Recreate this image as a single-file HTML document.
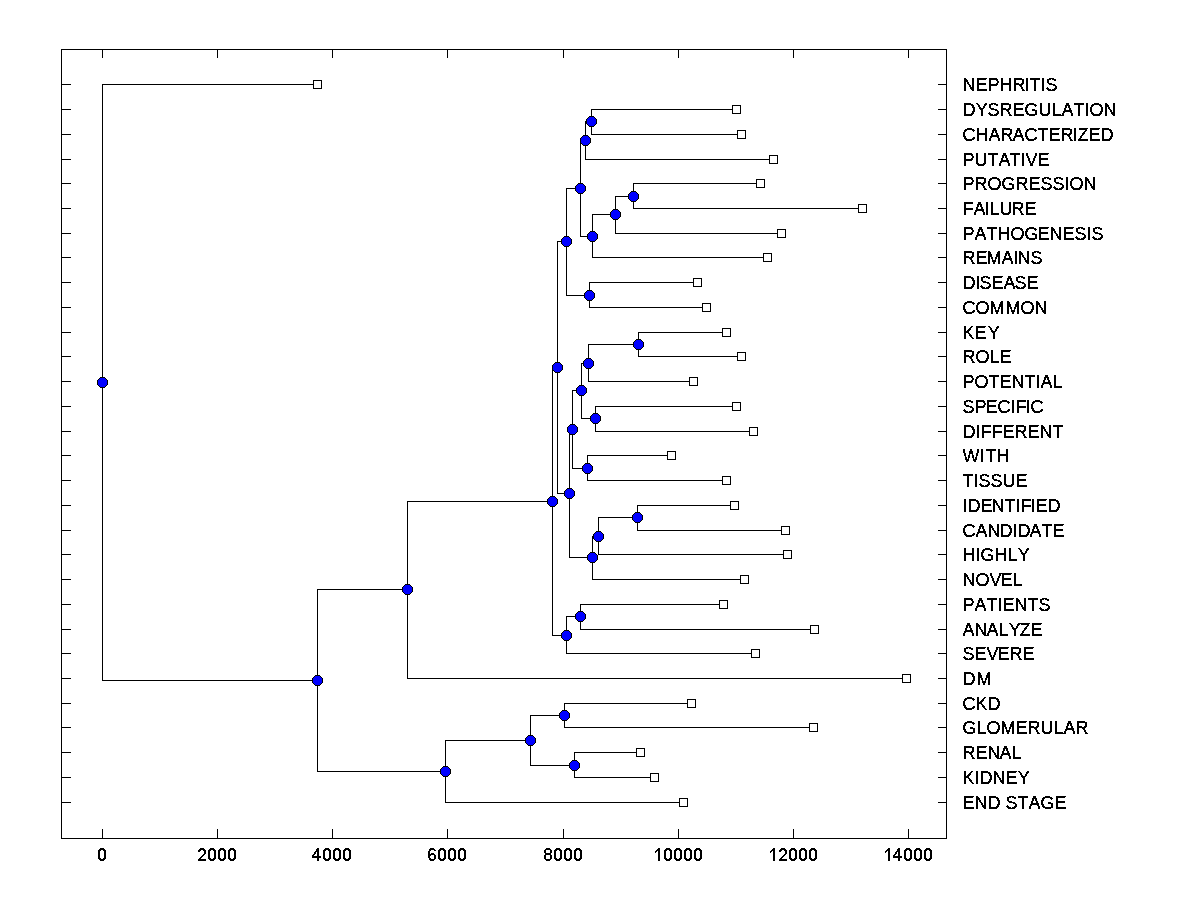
<!DOCTYPE html>
<html><head><meta charset="utf-8"><title>Dendrogram</title>
<style>
html,body{margin:0;padding:0;background:#fff;}
body{width:1200px;height:900px;overflow:hidden;position:relative;}
svg{position:absolute;left:0;top:0;}
text{font-family:"Liberation Sans",sans-serif;font-size:18px;fill:#000;stroke:#000;stroke-width:0.24px;font-kerning:none;}
</style></head>
<body>
<svg width="1200" height="900" viewBox="0 0 1200 900" shape-rendering="crispEdges">
<defs>
<g id="o">
<path d="M-2 -5h5v1h1v1h1v1h1v5h-1v1h-1v1h-1v1h-5v-1h-1v-1h-1v-1h-1v-5h1v-1h1v-1h1z" fill="#000"/>
<path d="M-2 -4h5v1h1v1h1v5h-1v1h-1v1h-5v-1h-1v-1h-1v-5h1v-1h1z" fill="#00f"/>
</g>
<g id="s"><rect x="-4" y="-4" width="9" height="9" fill="#000"/><rect x="-3" y="-3" width="7" height="7" fill="#fff"/></g>
<path id="d0" d="M3 0h4v1h-4zM2 1h6v1h-6zM1 2h3v1h-3zM6 2h3v1h-3zM1 3h2v1h-2zM7 3h2v1h-2zM1 4h2v1h-2zM7 4h2v1h-2zM1 5h2v1h-2zM7 5h2v1h-2zM1 6h2v1h-2zM7 6h2v1h-2zM1 7h2v1h-2zM7 7h2v1h-2zM1 8h2v1h-2zM7 8h2v1h-2zM1 9h2v1h-2zM7 9h2v1h-2zM1 10h3v1h-3zM6 10h3v1h-3zM2 11h6v1h-6zM3 12h4v1h-4z"/>
<path id="d1" d="M5 0h2v1h-2zM4 1h3v1h-3zM3 2h4v1h-4zM2 3h2v1h-2zM5 3h2v1h-2zM2 4h1v1h-1zM5 4h2v1h-2zM5 5h2v1h-2zM5 6h2v1h-2zM5 7h2v1h-2zM5 8h2v1h-2zM5 9h2v1h-2zM5 10h2v1h-2zM5 11h2v1h-2zM5 12h2v1h-2z"/>
<path id="d2" d="M3 0h4v1h-4zM2 1h6v1h-6zM1 2h3v1h-3zM6 2h3v1h-3zM1 3h2v1h-2zM7 3h2v1h-2zM7 4h2v1h-2zM7 5h2v1h-2zM6 6h2v1h-2zM5 7h2v1h-2zM4 8h2v1h-2zM3 9h2v1h-2zM2 10h2v1h-2zM1 11h8v1h-8zM1 12h8v1h-8z"/>
<path id="d4" d="M5 0h2v1h-2zM4 1h3v1h-3zM4 2h3v1h-3zM3 3h4v1h-4zM2 4h2v1h-2zM5 4h2v1h-2zM2 5h2v1h-2zM5 5h2v1h-2zM1 6h2v1h-2zM5 6h2v1h-2zM0 7h2v1h-2zM5 7h2v1h-2zM0 8h9v1h-9zM0 9h9v1h-9zM5 10h2v1h-2zM5 11h2v1h-2zM5 12h2v1h-2z"/>
<path id="d6" d="M3 0h4v1h-4zM2 1h6v1h-6zM2 2h2v1h-2zM7 2h2v1h-2zM1 3h2v1h-2zM1 4h2v1h-2zM1 5h2v1h-2zM4 5h3v1h-3zM1 6h7v1h-7zM1 7h3v1h-3zM7 7h2v1h-2zM1 8h2v1h-2zM7 8h2v1h-2zM1 9h2v1h-2zM7 9h2v1h-2zM2 10h2v1h-2zM7 10h2v1h-2zM2 11h6v1h-6zM3 12h4v1h-4z"/>
<path id="d8" d="M3 0h4v1h-4zM2 1h6v1h-6zM1 2h2v1h-2zM7 2h2v1h-2zM1 3h2v1h-2zM7 3h2v1h-2zM1 4h2v1h-2zM7 4h2v1h-2zM2 5h6v1h-6zM2 6h6v1h-6zM1 7h2v1h-2zM7 7h2v1h-2zM1 8h2v1h-2zM7 8h2v1h-2zM1 9h2v1h-2zM7 9h2v1h-2zM1 10h2v1h-2zM7 10h2v1h-2zM2 11h6v1h-6zM3 12h4v1h-4z"/>
<filter id="bw" filterUnits="userSpaceOnUse" x="950" y="60" width="250" height="770" color-interpolation-filters="sRGB"><feComponentTransfer in="SourceGraphic" result="a"><feFuncA type="discrete" tableValues="0 1"/></feComponentTransfer><feOffset in="a" dy="-1" result="u"/><feOffset in="a" dy="1" result="n"/><feComposite in="a" in2="u" operator="out" result="t1"/><feComposite in="t1" in2="n" operator="out" result="t2"/><feMorphology in="t2" operator="erode" radius="1 0" result="e"/><feMorphology in="e" operator="dilate" radius="1 0" result="d"/><feOffset in="d" dy="-1" result="add"/><feMerge><feMergeNode in="a"/><feMergeNode in="add"/></feMerge></filter>
</defs>
<g fill="#000">
<rect x="591" y="109" width="1" height="26"/>
<rect x="591" y="109" width="146" height="1"/>
<rect x="591" y="134" width="151" height="1"/>
<rect x="585" y="121" width="1" height="39"/>
<rect x="585" y="121" width="7" height="1"/>
<rect x="585" y="159" width="189" height="1"/>
<rect x="633" y="183" width="1" height="26"/>
<rect x="633" y="183" width="128" height="1"/>
<rect x="633" y="208" width="230" height="1"/>
<rect x="615" y="196" width="1" height="38"/>
<rect x="615" y="196" width="19" height="1"/>
<rect x="615" y="233" width="167" height="1"/>
<rect x="592" y="214" width="1" height="44"/>
<rect x="592" y="214" width="24" height="1"/>
<rect x="592" y="257" width="176" height="1"/>
<rect x="580" y="140" width="1" height="97"/>
<rect x="580" y="140" width="6" height="1"/>
<rect x="580" y="236" width="13" height="1"/>
<rect x="589" y="282" width="1" height="26"/>
<rect x="589" y="282" width="109" height="1"/>
<rect x="589" y="307" width="118" height="1"/>
<rect x="566" y="188" width="1" height="108"/>
<rect x="566" y="188" width="15" height="1"/>
<rect x="566" y="295" width="24" height="1"/>
<rect x="638" y="332" width="1" height="25"/>
<rect x="638" y="332" width="89" height="1"/>
<rect x="638" y="356" width="104" height="1"/>
<rect x="588" y="344" width="1" height="38"/>
<rect x="588" y="344" width="51" height="1"/>
<rect x="588" y="381" width="106" height="1"/>
<rect x="595" y="406" width="1" height="26"/>
<rect x="595" y="406" width="142" height="1"/>
<rect x="595" y="431" width="159" height="1"/>
<rect x="581" y="363" width="1" height="56"/>
<rect x="581" y="363" width="8" height="1"/>
<rect x="581" y="418" width="15" height="1"/>
<rect x="587" y="455" width="1" height="26"/>
<rect x="587" y="455" width="85" height="1"/>
<rect x="587" y="480" width="140" height="1"/>
<rect x="572" y="390" width="1" height="79"/>
<rect x="572" y="390" width="10" height="1"/>
<rect x="572" y="468" width="16" height="1"/>
<rect x="637" y="505" width="1" height="26"/>
<rect x="637" y="505" width="98" height="1"/>
<rect x="637" y="530" width="149" height="1"/>
<rect x="598" y="517" width="1" height="38"/>
<rect x="598" y="517" width="40" height="1"/>
<rect x="598" y="554" width="190" height="1"/>
<rect x="592" y="536" width="1" height="44"/>
<rect x="592" y="536" width="7" height="1"/>
<rect x="592" y="579" width="153" height="1"/>
<rect x="569" y="429" width="1" height="129"/>
<rect x="569" y="429" width="4" height="1"/>
<rect x="569" y="557" width="24" height="1"/>
<rect x="557" y="241" width="1" height="253"/>
<rect x="557" y="241" width="10" height="1"/>
<rect x="557" y="493" width="13" height="1"/>
<rect x="580" y="604" width="1" height="26"/>
<rect x="580" y="604" width="144" height="1"/>
<rect x="580" y="629" width="235" height="1"/>
<rect x="566" y="616" width="1" height="38"/>
<rect x="566" y="616" width="15" height="1"/>
<rect x="566" y="653" width="190" height="1"/>
<rect x="552" y="367" width="1" height="269"/>
<rect x="552" y="367" width="6" height="1"/>
<rect x="552" y="635" width="15" height="1"/>
<rect x="407" y="501" width="1" height="178"/>
<rect x="407" y="501" width="146" height="1"/>
<rect x="407" y="678" width="500" height="1"/>
<rect x="564" y="703" width="1" height="25"/>
<rect x="564" y="703" width="128" height="1"/>
<rect x="564" y="727" width="250" height="1"/>
<rect x="574" y="752" width="1" height="26"/>
<rect x="574" y="752" width="67" height="1"/>
<rect x="574" y="777" width="81" height="1"/>
<rect x="530" y="715" width="1" height="51"/>
<rect x="530" y="715" width="35" height="1"/>
<rect x="530" y="765" width="45" height="1"/>
<rect x="445" y="740" width="1" height="63"/>
<rect x="445" y="740" width="86" height="1"/>
<rect x="445" y="802" width="239" height="1"/>
<rect x="317" y="589" width="1" height="183"/>
<rect x="317" y="589" width="91" height="1"/>
<rect x="317" y="771" width="129" height="1"/>
<rect x="102" y="84" width="1" height="597"/>
<rect x="102" y="84" width="216" height="1"/>
<rect x="102" y="680" width="216" height="1"/>
<rect x="61" y="49" width="886" height="1"/>
<rect x="61" y="838" width="886" height="1"/>
<rect x="61" y="49" width="1" height="790"/>
<rect x="946" y="49" width="1" height="790"/>
<rect x="102" y="49" width="1" height="9"/>
<rect x="102" y="829" width="1" height="10"/>
<rect x="217" y="49" width="1" height="9"/>
<rect x="217" y="829" width="1" height="10"/>
<rect x="332" y="49" width="1" height="9"/>
<rect x="332" y="829" width="1" height="10"/>
<rect x="447" y="49" width="1" height="9"/>
<rect x="447" y="829" width="1" height="10"/>
<rect x="563" y="49" width="1" height="9"/>
<rect x="563" y="829" width="1" height="10"/>
<rect x="678" y="49" width="1" height="9"/>
<rect x="678" y="829" width="1" height="10"/>
<rect x="793" y="49" width="1" height="9"/>
<rect x="793" y="829" width="1" height="10"/>
<rect x="908" y="49" width="1" height="9"/>
<rect x="908" y="829" width="1" height="10"/>
<rect x="61" y="84" width="10" height="1"/>
<rect x="938" y="84" width="9" height="1"/>
<rect x="61" y="109" width="10" height="1"/>
<rect x="938" y="109" width="9" height="1"/>
<rect x="61" y="134" width="10" height="1"/>
<rect x="938" y="134" width="9" height="1"/>
<rect x="61" y="159" width="10" height="1"/>
<rect x="938" y="159" width="9" height="1"/>
<rect x="61" y="183" width="10" height="1"/>
<rect x="938" y="183" width="9" height="1"/>
<rect x="61" y="208" width="10" height="1"/>
<rect x="938" y="208" width="9" height="1"/>
<rect x="61" y="233" width="10" height="1"/>
<rect x="938" y="233" width="9" height="1"/>
<rect x="61" y="257" width="10" height="1"/>
<rect x="938" y="257" width="9" height="1"/>
<rect x="61" y="282" width="10" height="1"/>
<rect x="938" y="282" width="9" height="1"/>
<rect x="61" y="307" width="10" height="1"/>
<rect x="938" y="307" width="9" height="1"/>
<rect x="61" y="332" width="10" height="1"/>
<rect x="938" y="332" width="9" height="1"/>
<rect x="61" y="356" width="10" height="1"/>
<rect x="938" y="356" width="9" height="1"/>
<rect x="61" y="381" width="10" height="1"/>
<rect x="938" y="381" width="9" height="1"/>
<rect x="61" y="406" width="10" height="1"/>
<rect x="938" y="406" width="9" height="1"/>
<rect x="61" y="431" width="10" height="1"/>
<rect x="938" y="431" width="9" height="1"/>
<rect x="61" y="455" width="10" height="1"/>
<rect x="938" y="455" width="9" height="1"/>
<rect x="61" y="480" width="10" height="1"/>
<rect x="938" y="480" width="9" height="1"/>
<rect x="61" y="505" width="10" height="1"/>
<rect x="938" y="505" width="9" height="1"/>
<rect x="61" y="530" width="10" height="1"/>
<rect x="938" y="530" width="9" height="1"/>
<rect x="61" y="554" width="10" height="1"/>
<rect x="938" y="554" width="9" height="1"/>
<rect x="61" y="579" width="10" height="1"/>
<rect x="938" y="579" width="9" height="1"/>
<rect x="61" y="604" width="10" height="1"/>
<rect x="938" y="604" width="9" height="1"/>
<rect x="61" y="629" width="10" height="1"/>
<rect x="938" y="629" width="9" height="1"/>
<rect x="61" y="653" width="10" height="1"/>
<rect x="938" y="653" width="9" height="1"/>
<rect x="61" y="678" width="10" height="1"/>
<rect x="938" y="678" width="9" height="1"/>
<rect x="61" y="703" width="10" height="1"/>
<rect x="938" y="703" width="9" height="1"/>
<rect x="61" y="727" width="10" height="1"/>
<rect x="938" y="727" width="9" height="1"/>
<rect x="61" y="752" width="10" height="1"/>
<rect x="938" y="752" width="9" height="1"/>
<rect x="61" y="777" width="10" height="1"/>
<rect x="938" y="777" width="9" height="1"/>
<rect x="61" y="802" width="10" height="1"/>
<rect x="938" y="802" width="9" height="1"/>
</g>
<g>
<use href="#s" x="317" y="84"/>
<use href="#s" x="736" y="109"/>
<use href="#s" x="741" y="134"/>
<use href="#s" x="773" y="159"/>
<use href="#s" x="760" y="183"/>
<use href="#s" x="862" y="208"/>
<use href="#s" x="781" y="233"/>
<use href="#s" x="767" y="257"/>
<use href="#s" x="697" y="282"/>
<use href="#s" x="706" y="307"/>
<use href="#s" x="726" y="332"/>
<use href="#s" x="741" y="356"/>
<use href="#s" x="693" y="381"/>
<use href="#s" x="736" y="406"/>
<use href="#s" x="753" y="431"/>
<use href="#s" x="671" y="455"/>
<use href="#s" x="726" y="480"/>
<use href="#s" x="734" y="505"/>
<use href="#s" x="785" y="530"/>
<use href="#s" x="787" y="554"/>
<use href="#s" x="744" y="579"/>
<use href="#s" x="723" y="604"/>
<use href="#s" x="814" y="629"/>
<use href="#s" x="755" y="653"/>
<use href="#s" x="906" y="678"/>
<use href="#s" x="691" y="703"/>
<use href="#s" x="813" y="727"/>
<use href="#s" x="640" y="752"/>
<use href="#s" x="654" y="777"/>
<use href="#s" x="683" y="802"/>
<use href="#o" x="591" y="121"/>
<use href="#o" x="585" y="140"/>
<use href="#o" x="633" y="196"/>
<use href="#o" x="615" y="214"/>
<use href="#o" x="592" y="236"/>
<use href="#o" x="580" y="188"/>
<use href="#o" x="589" y="295"/>
<use href="#o" x="566" y="241"/>
<use href="#o" x="638" y="344"/>
<use href="#o" x="588" y="363"/>
<use href="#o" x="595" y="418"/>
<use href="#o" x="581" y="390"/>
<use href="#o" x="587" y="468"/>
<use href="#o" x="572" y="429"/>
<use href="#o" x="637" y="517"/>
<use href="#o" x="598" y="536"/>
<use href="#o" x="592" y="557"/>
<use href="#o" x="569" y="493"/>
<use href="#o" x="557" y="367"/>
<use href="#o" x="580" y="616"/>
<use href="#o" x="566" y="635"/>
<use href="#o" x="552" y="501"/>
<use href="#o" x="407" y="589"/>
<use href="#o" x="564" y="715"/>
<use href="#o" x="574" y="765"/>
<use href="#o" x="530" y="740"/>
<use href="#o" x="445" y="771"/>
<use href="#o" x="317" y="680"/>
<use href="#o" x="102" y="382"/>
</g>
<g filter="url(#bw)">
<text x="962.5 975.5 987.5 999.5 1012.5 1024.5 1029.5 1040.5 1045.5" y="91">NEPHRITIS</text>
<text x="962.5 975.8 987.5 999.5 1012.5 1024.5 1038.5 1051.5 1061.5 1073.5 1084.5 1089.5 1103.5" y="116">DYSREGULATION</text>
<text x="962.5 975.5 988.5 1000.5 1012.5 1024.5 1037.5 1048.5 1060.5 1072.5 1077.5 1088.5 1100.5" y="141">CHARACTERIZED</text>
<text x="962.5 974.5 987.5 998.5 1009.5 1020.5 1025.5 1037.5" y="166">PUTATIVE</text>
<text x="962.5 974.5 987.5 1001.5 1015.5 1028.5 1040.5 1052.5 1064.5 1069.5 1083.5" y="190">PROGRESSION</text>
<text x="962.5 973.5 984.5 989.5 999.5 1011.5 1024.5" y="215">FAILURE</text>
<text x="962.5 974.5 986.5 997.5 1010.5 1024.5 1037.5 1049.5 1062.5 1074.5 1086.5 1091.5" y="240">PATHOGENESIS</text>
<text x="962.5 975.5 986.5 1001.5 1013.5 1017.5 1030.5" y="264">REMAINS</text>
<text x="962.5 975.5 979.5 991.5 1003.5 1014.5 1026.5" y="289">DISEASE</text>
<text x="962.5 975.5 989.5 1005.5 1020.5 1034.5" y="314">COMMON</text>
<text x="962.5 974.5 987.8" y="339">KEY</text>
<text x="962.5 975.5 989.5 999.5" y="363">ROLE</text>
<text x="962.5 974.5 988.5 999.5 1011.5 1024.5 1035.5 1040.5 1052.5" y="388">POTENTIAL</text>
<text x="962.5 974.5 985.5 997.5 1010.5 1015.5 1025.5 1030.5" y="413">SPECIFIC</text>
<text x="962.5 975.5 980.5 991.5 1002.5 1014.5 1027.5 1039.5 1052.5" y="438">DIFFERENT</text>
<text x="962.5 979.5 985.5 996.5" y="462">WITH</text>
<text x="962.5 973.5 978.5 990.5 1002.5 1015.5" y="487">TISSUE</text>
<text x="962.5 967.5 980.5 991.5 1004.5 1015.5 1020.5 1030.5 1035.5 1047.5" y="512">IDENTIFIED</text>
<text x="962.5 975.5 987.5 999.5 1012.5 1017.5 1029.5 1041.5 1052.5" y="537">CANDIDATE</text>
<text x="962.5 975.5 980.5 994.5 1007.5 1017.8" y="561">HIGHLY</text>
<text x="962.5 975.5 989.5 1000.5 1012.5" y="586">NOVEL</text>
<text x="962.5 974.5 986.5 997.5 1002.5 1014.5 1027.5 1038.5" y="611">PATIENTS</text>
<text x="962.5 974.5 986.5 998.5 1008.8 1019.5 1030.5" y="636">ANALYZE</text>
<text x="962.5 974.5 986.5 997.5 1009.5 1022.5" y="660">SEVERE</text>
<text x="962.5 976.5" y="685">DM</text>
<text x="962.5 975.5 987.5" y="710">CKD</text>
<text x="962.5 976.5 986.5 1000.5 1015.5 1027.5 1040.5 1053.5 1063.5 1075.5" y="734">GLOMERULAR</text>
<text x="962.5 975.5 987.5 999.5 1011.5" y="759">RENAL</text>
<text x="962.5 974.5 979.5 992.5 1005.5 1017.8" y="784">KIDNEY</text>
<text x="962.5 974.5 987.5 1000.5 1005.5 1017.5 1028.5 1040.5 1054.5" y="809">END STAGE</text>
</g>
<g fill="#000">
<use href="#d0" x="97" y="848"/>
<use href="#d2" x="197" y="848"/>
<use href="#d0" x="207" y="848"/>
<use href="#d0" x="217" y="848"/>
<use href="#d0" x="227" y="848"/>
<use href="#d4" x="312" y="848"/>
<use href="#d0" x="322" y="848"/>
<use href="#d0" x="332" y="848"/>
<use href="#d0" x="342" y="848"/>
<use href="#d6" x="427" y="848"/>
<use href="#d0" x="437" y="848"/>
<use href="#d0" x="447" y="848"/>
<use href="#d0" x="457" y="848"/>
<use href="#d8" x="543" y="848"/>
<use href="#d0" x="553" y="848"/>
<use href="#d0" x="563" y="848"/>
<use href="#d0" x="573" y="848"/>
<use href="#d1" x="653" y="848"/>
<use href="#d0" x="663" y="848"/>
<use href="#d0" x="673" y="848"/>
<use href="#d0" x="683" y="848"/>
<use href="#d0" x="693" y="848"/>
<use href="#d1" x="768" y="848"/>
<use href="#d2" x="778" y="848"/>
<use href="#d0" x="788" y="848"/>
<use href="#d0" x="798" y="848"/>
<use href="#d0" x="808" y="848"/>
<use href="#d1" x="883" y="848"/>
<use href="#d4" x="893" y="848"/>
<use href="#d0" x="903" y="848"/>
<use href="#d0" x="913" y="848"/>
<use href="#d0" x="923" y="848"/>
</g>
</svg>
</body></html>
